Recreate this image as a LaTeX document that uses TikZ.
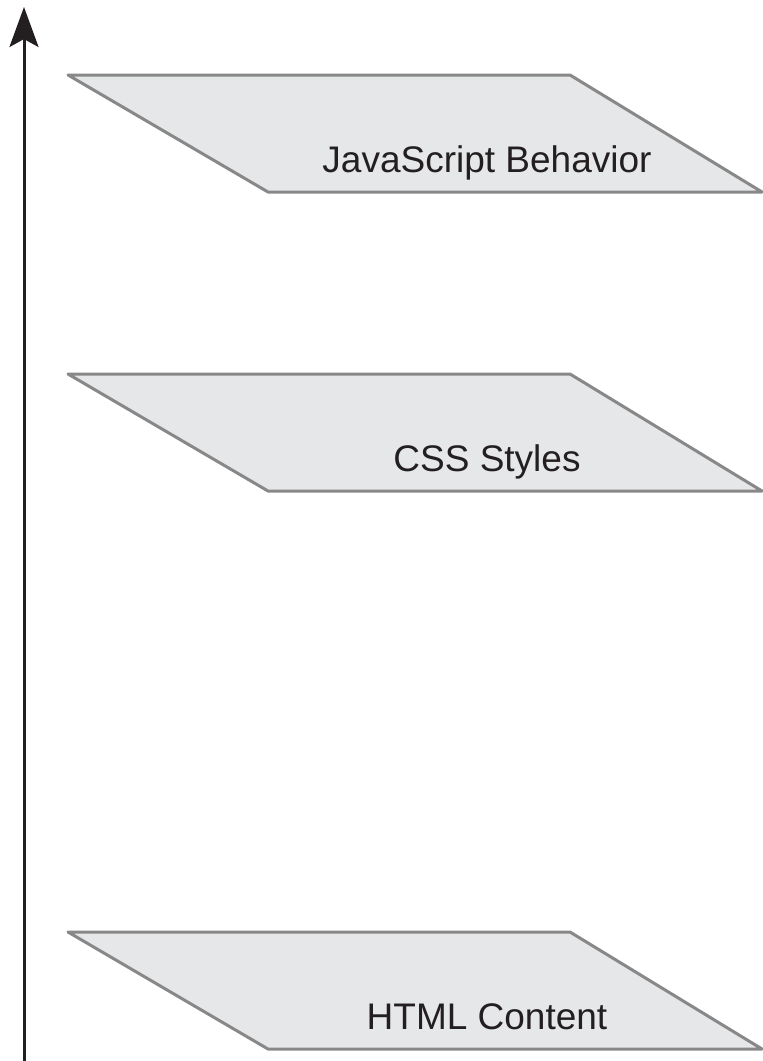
\documentclass[tikz,border=0pt]{standalone}
\usepackage{fontspec}
\setmainfont{Liberation Sans}
\usepackage[svgnames]{xcolor}
\usetikzlibrary{arrows.meta,positioning}
\definecolor{layerfill}{HTML}{E6E7E8}
\definecolor{layeredge}{HTML}{888888}
\definecolor{inkblack}{HTML}{231F20}

\begin{document}
\begin{tikzpicture}[
                    x=1pt, y=-1pt,
                    >={Stealth[length=40pt,width=29pt,inset=8pt]},
                    layer/.style = {fill=layerfill, draw=layeredge, line width=3pt, line join=round},
                    lbl/.style = {anchor=base, inner sep=0pt, text=inkblack, font=\fontsize{37}{44}\selectfont},
                    axis/.style = {draw=inkblack, line width=3pt}
                    ]

\useasboundingbox (0,0) rectangle (763,1061);

% the three layers, bottom one is the content
\foreach \ytop/\name/\txt in {75/js/JavaScript Behavior, 374/css/CSS Styles, 932/html/HTML Content} {
  \draw[layer] (68,\ytop) -- (570,\ytop) -- (762,\ytop+117) -- (268,\ytop+117) -- cycle;
  \node[lbl] (\name) at (487,\ytop+97) {\txt};
}

\coordinate (base) at (24,1061);
\coordinate (tip)  at (24,7);
\draw[axis,->] (base) -- (tip);
\end{tikzpicture}
\end{document}
